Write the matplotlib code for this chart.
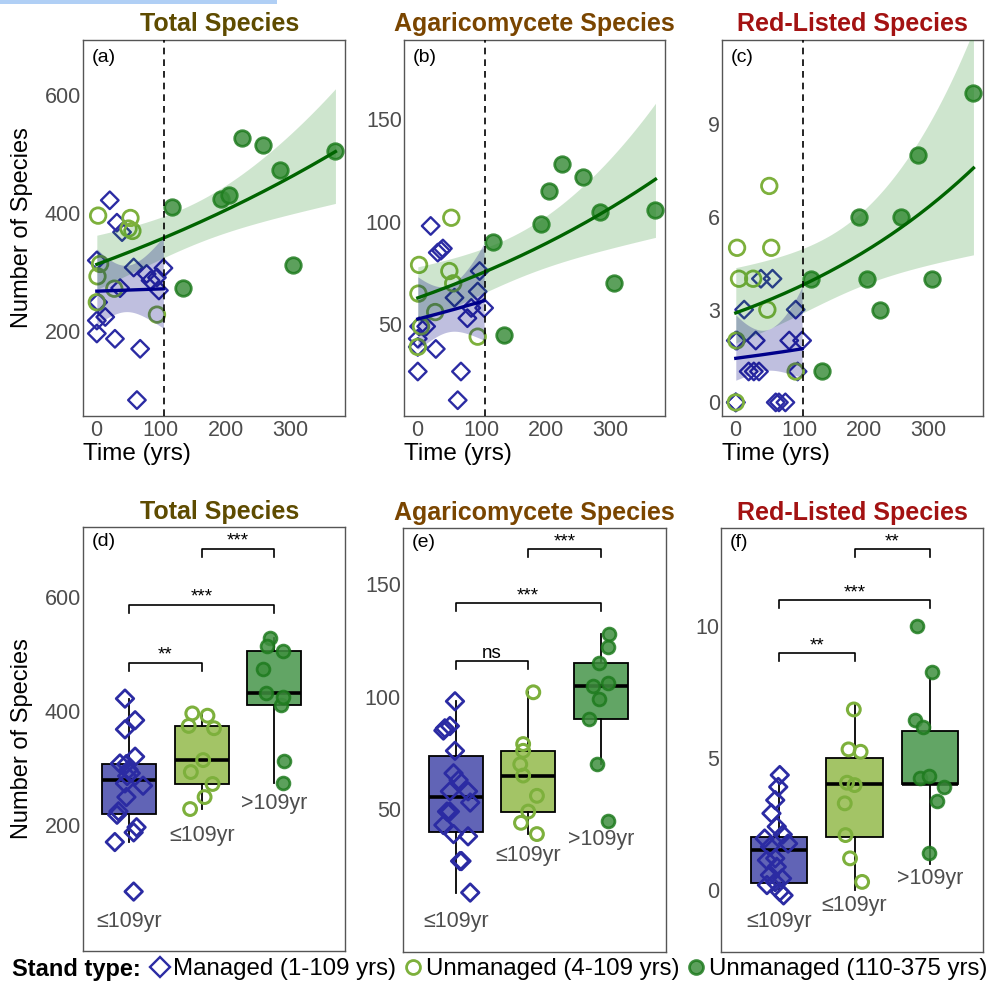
import numpy as np
import matplotlib.pyplot as plt
from matplotlib.lines import Line2D
from matplotlib.patches import Rectangle

plt.rcParams['font.family'] = ['Liberation Sans', 'DejaVu Sans']

# ---- data ----
# managed stands (1-109 yrs)
managed_age = [21, 32, 40, 1, 58, 78, 104, 94, 84, 97, 37, 3, 14, 1, 1, 29, 68, 63]
managed_total = [422, 384, 368, 320, 308, 297, 307, 291, 286, 269, 273, 249, 224, 218, 196, 187, 170, 83]
managed_agar = [98, 85, 87, 43, 63, 53, 58, 66, 58, 76, 86, 49, 49, 39, 27, 38, 27, 13]
managed_red = [1, 2, 4, 2, 4, 0, 2, 3, 2, 1, 1, 2, 3, 0, 0, 1, 0, 0]

# unmanaged young stands (4-109 yrs)
young_age = [3, 53, 50, 56, 6, 2, 28, 1, 94]
young_total = [396, 392, 374, 370, 314, 293, 272, 249, 228]
young_agar = [79, 102, 76, 70, 49, 65, 56, 39, 44]
young_red = [5, 7, 3, 5, 4, 2, 4, 0, 1]

# unmanaged old stands (110-375 yrs)
old_age = [118, 135, 193, 205, 225, 258, 284, 305, 370]
old_total = [410, 273, 425, 431, 528, 515, 474, 312, 505]
old_agar = [90, 45, 99, 115, 128, 122, 105, 70, 106]
old_red = [4, 1, 6, 4, 3, 6, 8, 4, 10]

# jitter as drawn in the box plots (x in category units, y in data units)
jit_d = [[-0.06, 0.08, -0.06, 0.08, -0.13, -0.01, -0.04, 0.02, -0.03, 0.19, -0.06, -0.04, -0.15, -0.17, 0.1, 0.06, -0.2, 0.06],
         [-0.13, 0.08, -0.18, 0.17, 0.02, -0.15, 0.15, 0.04, -0.16],
         [0.1, 0.13, 0.13, -0.11, -0.06, -0.1, -0.15, 0.14, 0.12]]
jit_e = [[-0.01, -0.17, -0.08, -0.17, 0.04, 0.2, 0.17, -0.03, -0.08, -0.01, -0.15, -0.12, -0.08, -0.03, 0.06, 0.17, 0.08, 0.2],
         [-0.07, 0.07, -0.07, -0.11, 0.0, -0.07, 0.12, 0.12, -0.1],
         [-0.16, 0.1, -0.02, -0.03, 0.12, 0.1, -0.1, -0.05, 0.1]]
jit_f = [[-0.16, -0.03, 0.01, -0.19, -0.01, 0.04, 0.12, -0.05, -0.12, -0.05, -0.03, 0.05, -0.1, -0.16, 0.01, -0.12, -0.05, 0.06],
         [-0.08, -0.01, -0.13, 0.08, -0.1, -0.12, 0.0, 0.1, -0.06],
         [-0.13, -0.02, -0.2, -0.02, 0.09, -0.1, 0.02, 0.19, -0.18]]
yjit_f = [[0.13, 0.4, 0.35, -0.05, -0.1, 0.44, -0.24, 0.4, -0.36, 0.2, -0.12, 0.1, -0.1, 0.19, -0.06, -0.43, 0.3, -0.2],
          [0.32, -0.17, 0.28, 0.23, 0.06, 0.08, -0.03, 0.31, 0.2],
          [0.22, 0.39, 0.42, 0.31, 0.36, 0.17, 0.23, -0.1, 0.0]]

# significance brackets: (from, to, height, label)
sig_d = [(1, 2, 485, '**'), (1, 3, 587, '***'), (2, 3, 685, '***')]
sig_e = [(1, 2, 116, 'ns'), (1, 3, 141.5, '***'), (2, 3, 165.5, '***')]
sig_f = [(1, 2, 8.95, '**'), (1, 3, 10.96, '***'), (2, 3, 12.88, '**')]

group_labels = ['\u2264109yr', '\u2264109yr', '>109yr']

c_man = '#2b2ba3'
c_young = '#7db03c'
c_old_face = '#3f8f3f'
c_old_edge = '#1e7b1e'
box_cols = ['#6164b6', '#a3c466', '#62a565']
title_cols = ['#5e4b00', '#7a4500', '#a31212']
titles = ['Total Species', 'Agaricomycete Species', 'Red-Listed Species']


def qp_fit(x, y, xs):
    # quasi-poisson glm with log link, as geom_smooth(method='glm')
    x = np.asarray(x, float)
    y = np.asarray(y, float)
    X = np.column_stack([np.ones_like(x), x])
    beta = np.array([np.log(y.mean()), 0.0])
    for _ in range(100):
        eta = X @ beta
        mu = np.exp(eta)
        z = eta + (y - mu) / mu
        beta = np.linalg.solve(X.T @ (mu[:, None] * X), X.T @ (mu * z))
    mu = np.exp(X @ beta)
    phi = np.sum((y - mu) ** 2 / mu) / (len(y) - 2)
    cov = phi * np.linalg.inv(X.T @ (mu[:, None] * X))
    Xs = np.column_stack([np.ones_like(xs), xs])
    eta = Xs @ beta
    se = np.sqrt(np.einsum('ij,jk,ik->i', Xs, cov, Xs))
    return np.exp(eta), np.exp(eta - 1.96 * se), np.exp(eta + 1.96 * se)


fig = plt.figure(figsize=(9.97, 9.88), dpi=100)
W, H = 997, 988


def add_ax(x0, y0, x1, y1):
    return fig.add_axes([x0 / W, 1 - y1 / H, (x1 - x0) / W, (y1 - y0) / H])


def style_ax(ax):
    for s in ax.spines.values():
        s.set_color('#555555')
        s.set_linewidth(1.0)
    ax.tick_params(length=0, labelsize=15.5, labelcolor='#4d4d4d')
    ax.tick_params(axis='y', pad=1.5)
    ax.tick_params(axis='x', pad=3)


# ---- top row: species vs time ----
top_boxes = [(83, 40, 345, 416), (404, 40, 665, 416), (722, 40, 983, 416)]
top_data = [(managed_total, young_total, old_total),
            (managed_agar, young_agar, old_agar),
            (managed_red, young_red, old_red)]
top_ylim = [(56, 694), (5.3, 188.7), (-0.44, 11.72)]
top_yticks = [[200, 400, 600], [50, 100, 150], [0, 3, 6, 9]]
top_tags = ['(a)', '(b)', '(c)']

for k in range(3):
    ax = add_ax(*top_boxes[k])
    ym, yy, yo = top_data[k]
    ax.scatter(managed_age, ym, marker='D', s=80, facecolors='none',
               edgecolors=c_man, linewidths=1.7, zorder=3)
    ax.scatter(young_age, yy, marker='o', s=125, facecolors='none',
               edgecolors=c_young, linewidths=2.0, zorder=3)
    ax.scatter(old_age, yo, marker='o', s=125, facecolors=c_old_face,
               edgecolors=c_old_edge, linewidths=2.0, alpha=0.85, zorder=3)

    ua = young_age + old_age
    uy = yy + yo
    xs = np.linspace(min(ua), max(ua), 200)
    fit, lo, hi = qp_fit(ua, uy, xs)
    ax.fill_between(xs, lo, hi, color='#228b22', alpha=0.22, lw=0, zorder=4)
    ax.plot(xs, fit, color='#006400', lw=2.4, zorder=5)

    xs = np.linspace(min(managed_age), max(managed_age), 200)
    fit, lo, hi = qp_fit(managed_age, ym, xs)
    ax.fill_between(xs, lo, hi, color='#000080', alpha=0.25, lw=0, zorder=4)
    ax.plot(xs, fit, color='#00008b', lw=2.4, zorder=5)

    ax.axvline(105, color='black', lw=1.2, ls=(0, (4, 3)), zorder=6)

    ax.set_xlim(-20.4, 384.8)
    ax.set_ylim(*top_ylim[k])
    ax.set_xticks([0, 100, 200, 300])
    ax.set_yticks(top_yticks[k])
    style_ax(ax)
    ax.set_xlabel('Time (yrs)', loc='left', fontsize=17.5, labelpad=1)
    ax.text(0.035, 0.975, top_tags[k], transform=ax.transAxes, ha='left',
            va='top', fontsize=14)
    ax.set_title(titles[k], fontsize=18, fontweight='bold', color=title_cols[k],
                 pad=6.5, x=0.523 if k == 0 else 0.5)
    if k == 0:
        ax.set_ylabel('Number of Species', fontsize=17)
        ax.yaxis.set_label_coords(-0.19, 0.5)

# ---- bottom row: box plots by stand type ----
bot_boxes = [(83, 527, 345, 951), (403, 528, 666, 952), (721, 528, 983, 952)]
bot_xlim = [(0.36, 3.98), (0.273, 3.9), (0.232, 3.70)]
bot_ylim = [(-21.4, 723.5), (-13.4, 175), (-2.34, 13.69)]
bot_yticks = [[200, 400, 600], [50, 100, 150], [0, 5, 10]]
bot_tags = ['(d)', '(e)', '(f)']
bot_jit = [jit_d, jit_e, jit_f]
bot_sig = [sig_d, sig_e, sig_f]
label_y = [[30, 182, 238], [0.04, 29.7, 36.4], [-1.2, -0.57, 0.44]]

for k in range(3):
    ax = add_ax(*bot_boxes[k])
    groups = list(top_data[k])
    bp = ax.boxplot(groups, positions=[1, 2, 3], widths=0.75, patch_artist=True,
                    showfliers=False, showcaps=False,
                    medianprops=dict(color='black', lw=2.6),
                    boxprops=dict(edgecolor='black', lw=1.3),
                    whiskerprops=dict(color='black', lw=1.3))
    for patch, c in zip(bp['boxes'], box_cols):
        patch.set_facecolor(c)

    ylo, yhi = bot_ylim[k]
    for g in range(3):
        xj = np.arange(1, 4)[g] + np.array(bot_jit[k][g])
        yv = np.array(groups[g], float)
        if k == 2:
            yv = yv + np.array(yjit_f[g])
        if g == 0:
            ax.scatter(xj, yv, marker='D', s=80, facecolors='none',
                       edgecolors=c_man, linewidths=2.0, zorder=3)
        elif g == 1:
            ax.scatter(xj, yv, marker='o', s=85, facecolors='none',
                       edgecolors=c_young, linewidths=2.2, zorder=3)
        else:
            ax.scatter(xj, yv, marker='o', s=85, facecolors=c_old_face,
                       edgecolors=c_old_edge, linewidths=2.0, alpha=0.85, zorder=3)
        ax.text(g + 1, label_y[k][g], group_labels[g], ha='center', va='center',
                fontsize=15.5, color='#4d4d4d')

    h = (yhi - ylo) * 8 / 424
    gap = (yhi - ylo) * 3 / 424
    for i, j, y, txt in bot_sig[k]:
        ax.plot([i, i, j, j], [y - h, y, y, y - h], color='black', lw=1.2)
        ax.text((i + j) / 2, y + gap, txt, ha='center', va='baseline', fontsize=13.5)

    ax.set_xlim(*bot_xlim[k])
    ax.set_ylim(ylo, yhi)
    ax.set_xticks([])
    ax.set_yticks(bot_yticks[k])
    style_ax(ax)
    ax.text(0.035, 0.985, bot_tags[k], transform=ax.transAxes, ha='left',
            va='top', fontsize=14)
    ax.set_title(titles[k], fontsize=18, fontweight='bold', color=title_cols[k],
                 pad=5.5, x=0.523 if k == 0 else 0.5)
    if k == 0:
        ax.set_ylabel('Number of Species', fontsize=17)
        ax.yaxis.set_label_coords(-0.19, 0.5)

# ---- legend ----
fig.text(12 / W, 1 - 969 / H, 'Stand type:', fontsize=17, fontweight='bold',
         ha='left', va='center')
handles = [
    Line2D([], [], ls='none', marker='D', ms=10, mfc='none', mec=c_man, mew=1.7),
    Line2D([], [], ls='none', marker='o', ms=10, mfc='none', mec=c_young, mew=2.0),
    Line2D([], [], ls='none', marker='o', ms=10, mfc=c_old_face, mec=c_old_edge, mew=2.0, alpha=0.85),
]
labels = ['Managed (1-109 yrs)', 'Unmanaged (4-109 yrs)', 'Unmanaged (110-375 yrs)']
fig.legend(handles, labels, loc='center left', bbox_to_anchor=(150 / W, 1 - 969 / H),
           ncol=3, frameon=False, fontsize=17.3, handlelength=0.8, handletextpad=0.15,
           columnspacing=0.3, borderpad=0, borderaxespad=0)

# light blue strip at top left of the original image
fig.add_artist(Rectangle((0, 1 - 4 / H), 277 / W, 4 / H, transform=fig.transFigure,
                         color='#b0cff5', lw=0))

fig.savefig('out.png', dpi=100)
